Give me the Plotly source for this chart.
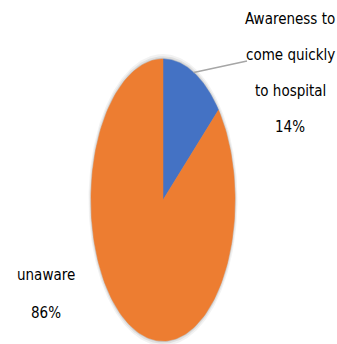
import numpy as np
import plotly.graph_objects as go

labels = ["Awareness to come quickly to hospital", "unaware"]
values = [14, 86]
colors = ["#4472C4", "#ED7D31"]
label_lines = [["Awareness to", "come quickly", "to hospital", "14%"], ["unaware", "86%"]]

W, H = 337, 344
cx, cy = 163, 200      # pie centre in pixels
rx, ry = 72, 141       # on-screen radii (pie is stretched)

fig = go.Figure()

# soft shadow around the pie
for k, op in [(1.035, 0.05), (1.02, 0.07), (1.008, 0.10)]:
    th = np.linspace(0, 2 * np.pi, 300)
    fig.add_trace(go.Scatter(x=k * np.sin(th), y=k * np.cos(th), mode="lines", fill="toself",
                             fillcolor="rgba(0,0,0,%g)" % op, line=dict(width=0),
                             hoverinfo="skip", showlegend=False))

total = sum(values)
start = 0.0
mids = []
for lab, v, col in zip(labels, values, colors):
    frac = v / total
    th = np.linspace(start, start + frac * 2 * np.pi, 200)
    xs = np.concatenate([[0], np.sin(th), [0]])
    ys = np.concatenate([[0], np.cos(th), [0]])
    fig.add_trace(go.Scatter(x=xs, y=ys, mode="lines", fill="toself",
                             fillcolor=col, line=dict(color=col, width=0.5),
                             name=lab, hoverinfo="name", showlegend=False))
    mids.append(start + frac * np.pi)
    start += frac * 2 * np.pi

# leader line for the small slice
m = mids[0]
end_x = (247 - cx) / rx
end_y = (cy - 61) / ry
fig.add_trace(go.Scatter(x=[np.sin(m), end_x], y=[np.cos(m), end_y], mode="lines",
                         line=dict(color="#A6A6A6", width=1.5), hoverinfo="skip",
                         showlegend=False))

font = dict(family="Liberation Sans Narrow, DejaVu Sans Condensed, Arial Narrow, sans-serif",
            size=15, color="#000000")
ann = []
for i, t in enumerate(label_lines[0]):
    ann.append(dict(x=290 / W, y=1 - (19 + 36 * i) / H, xref="paper", yref="paper",
                    text=t, showarrow=False, font=font, xanchor="center", yanchor="middle"))
for i, t in enumerate(label_lines[1]):
    ann.append(dict(x=46 / W, y=1 - (275 + 38 * i) / H, xref="paper", yref="paper",
                    text=t, showarrow=False, font=font, xanchor="center", yanchor="middle"))

fig.update_layout(
    width=W, height=H, margin=dict(l=0, r=0, t=0, b=0),
    paper_bgcolor="white", plot_bgcolor="white",
    xaxis=dict(range=[-cx / rx, (W - cx) / rx], visible=False, fixedrange=True),
    yaxis=dict(range=[-(H - cy) / ry, cy / ry], visible=False, fixedrange=True),
    annotations=ann, showlegend=False,
)
fig.write_html("out.html")
